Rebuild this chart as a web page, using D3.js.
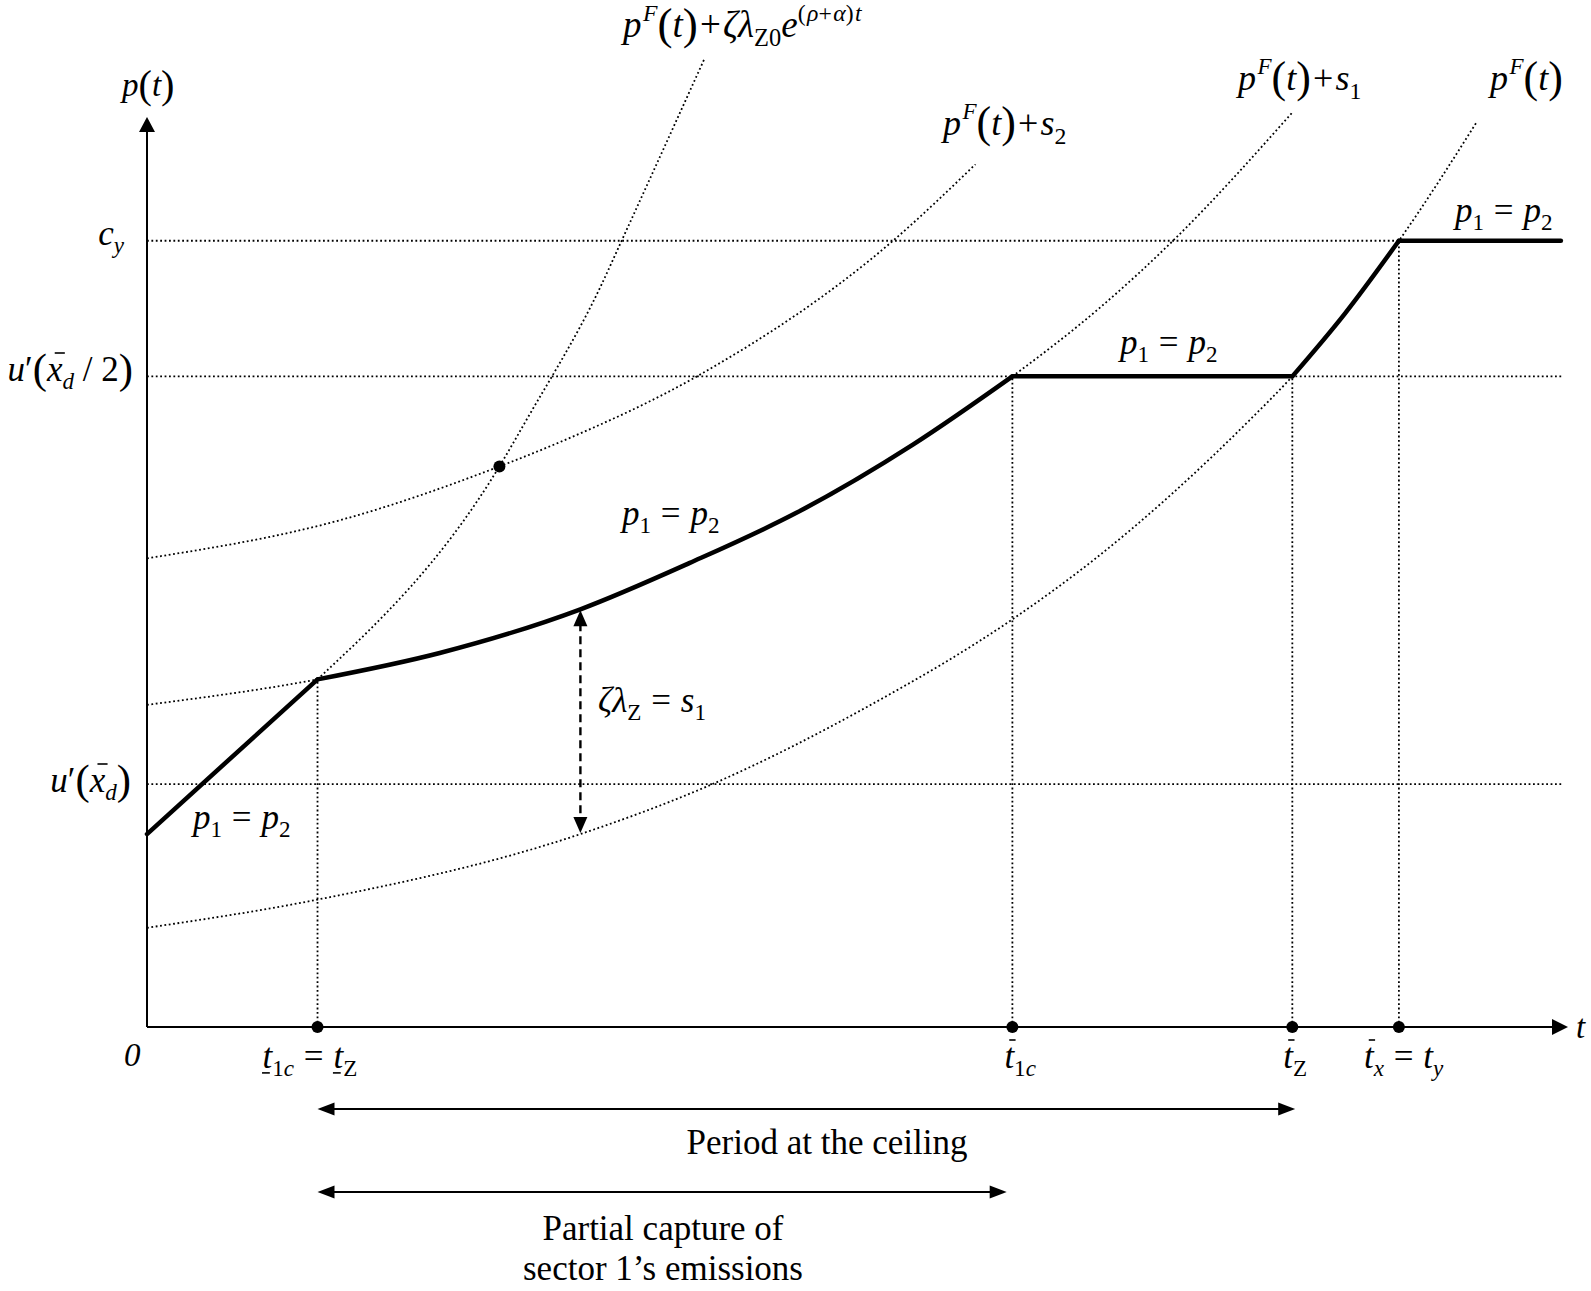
<!DOCTYPE html>
<html><head><meta charset="utf-8">
<script src="https://cdn.jsdelivr.net/npm/d3@7"></script>
<style>
body{margin:0;background:#fff}
svg{display:block}
text{font-family:"Liberation Serif","Times New Roman",serif;fill:#000;white-space:pre}
</style></head><body>
<svg id="c" width="1591" height="1291" xml:space="preserve"></svg>
<script>
// ---------------- data (abstract units: t in [0,100], p in [0,100]) ----------------
const tMax = 100, pMax = 100;
const keyTimes = {t1c: 12.0, tbar1c: 60.9, tbarZ: 80.6, tbarX: 88.1};
const levels = {cy: 86.4, uHalf: 71.5, uFull: 26.7};
const pathStart = [0, 21.2];
const pathEndT = 99.5;
const guideEndT = 99.6;
const pF = [[0,10.9],[12.0,14.0],[30.5,21.2],[39.8,26.7],[50.7,35.2],[60.9,44.8],[66.6,51.3],[77.6,66.7],[80.6,71.5],[84.3,78.4],[88.1,86.4],[93.6,99.5]];
const pFs1 = [[0,35.4],[12.0,38.2],[20.6,41.1],[30.5,45.9],[38.2,51.0],[45.7,56.5],[53.9,64.0],[60.9,71.5],[67.1,79.1],[72.2,86.4],[80.6,100.5]];
const pFs2 = [[0,51.5],[13.6,55.7],[24.8,61.6],[29.1,64.3],[38.7,71.5],[52.5,86.4],[58.3,94.8]];
const pFzeta = [[12.0,38.2],[24.8,61.6],[26.7,66.7],[31.9,81.3],[33.4,86.4],[39.2,106.3]];
const crossPoint = [24.8, 61.6];
const gapT = 30.5, gapTop = 45.9, gapBottom = 21.2;

// label contents: [text, kind, decoration]
const eqP1P2 = [['p','i'],['1','subr'],['=','eq'],['p','i'],['2','subr']];
const pFbase = [['p','i'],['F','sup'],['(','P'],['t','i'],[')','P']];
const curveLabels = [
  pFbase.concat([['+','op'],['ζλ','i'],['Z0','subr'],['e','i'],['(','supr'],['ρ','sup'],['+','supr'],['α','sup'],[')','supr'],['t','sup']]),
  pFbase.concat([['+','op'],['s','i'],['2','subr']]),
  pFbase.concat([['+','op'],['s','i'],['1','subr']]),
  pFbase
];
const gapLabel = [['ζλ','i'],['Z','subr'],['=','eq'],['s','i'],['1','subr']];
const yLabels = [
  [['c','i'],['y','sub']],
  [['u','i'],['′','r'],['(','P'],['x','i','over'],['d','sub'],[' / 2','r'],[')','P']],
  [['u','i'],['′','r'],['(','P'],['x','i','over'],['d','sub'],[')','P']]
];
const xLabels = [
  [['t','i','under'],['1','subr'],['c','sub'],['=','eq'],['t','i','under'],['Z','subr']],
  [['t','i','over'],['1','subr'],['c','sub']],
  [['t','i','over'],['Z','subr']],
  [['t','i','over'],['x','sub'],['=','eq'],['t','i'],['y','sub']]
];
const axisLabelY = [['p','i'],['(','P'],['t','i'],[')','P']];
const periodTexts = ['Period at the ceiling', 'Partial capture of', 'sector 1’s emissions'];

// ---------------- drawing ----------------
const svg = d3.select('#c');
const x = d3.scaleLinear().domain([0, tMax]).range([147, 1568]);
const y = d3.scaleLinear().domain([0, pMax]).range([1027, 117]);
const line = d3.line().x(d => x(d[0])).y(d => y(d[1]));
const curve = d3.line().x(d => x(d[0])).y(d => y(d[1])).curve(d3.curveMonotoneX);

const dotted = g => g.attr('fill','none').attr('stroke','#000').attr('stroke-width',1.8).attr('stroke-dasharray','1.8 2.6');

// dotted curves
[pF, pFs1, pFs2, pFzeta].forEach(c => svg.append('path').attr('d', curve(c)).call(dotted));
// horizontal guides
svg.append('path').attr('d', line([[0,levels.cy],[keyTimes.tbarX,levels.cy]])).call(dotted);
svg.append('path').attr('d', line([[0,levels.uHalf],[guideEndT,levels.uHalf]])).call(dotted);
svg.append('path').attr('d', line([[0,levels.uFull],[guideEndT,levels.uFull]])).call(dotted);
// vertical guides
const s1AtT1c = pFs1.find(d => d[0] === keyTimes.t1c)[1];
[[keyTimes.t1c, s1AtT1c],[keyTimes.tbar1c, levels.uHalf],[keyTimes.tbarZ, levels.uHalf],[keyTimes.tbarX, levels.cy]]
  .forEach(([t,p]) => svg.append('path').attr('d', line([[t,0],[t,p]])).call(dotted));

// thick path
const thick = g => g.attr('fill','none').attr('stroke','#000').attr('stroke-width',4.5).attr('stroke-linecap','round').attr('stroke-linejoin','round');
svg.append('path').attr('d', line([pathStart, [keyTimes.t1c, s1AtT1c]])).call(thick);
svg.append('path').attr('d', curve(pFs1.filter(d => d[0] >= keyTimes.t1c && d[0] <= keyTimes.tbar1c))).call(thick);
svg.append('path').attr('d', line([[keyTimes.tbar1c, levels.uHalf],[keyTimes.tbarZ, levels.uHalf]])).call(thick);
svg.append('path').attr('d', curve(pF.filter(d => d[0] >= keyTimes.tbarZ && d[0] <= keyTimes.tbarX))).call(thick);
svg.append('path').attr('d', line([[keyTimes.tbarX, levels.cy],[pathEndT, levels.cy]])).call(thick);

// arrowhead helper (tip at x0,y0 pointing in direction dx,dy)
function head(x0, y0, dx, dy, len, hw) {
  const n = Math.hypot(dx, dy); const ux = dx/n, uy = dy/n;
  const bx = x0 - ux*len, by = y0 - uy*len;
  svg.append('path').attr('d', `M${x0},${y0}L${bx - uy*hw},${by + ux*hw}L${bx + uy*hw},${by - ux*hw}Z`).attr('fill','#000');
}

// axes
svg.append('line').attr('x1', x(0)).attr('y1', y(0)).attr('x2', x(0)).attr('y2', y(pMax)+12).attr('stroke','#000').attr('stroke-width',2);
head(x(0), y(pMax), 0, -1, 15, 8);
svg.append('line').attr('x1', x(0)).attr('y1', y(0)).attr('x2', x(tMax)-12).attr('y2', y(0)).attr('stroke','#000').attr('stroke-width',2);
head(x(tMax), y(0), 1, 0, 16, 8);

// dots
Object.values(keyTimes).forEach(t => svg.append('circle').attr('cx', x(t)).attr('cy', y(0)).attr('r', 6).attr('fill','#000'));
svg.append('circle').attr('cx', x(crossPoint[0])).attr('cy', y(crossPoint[1])).attr('r', 6).attr('fill','#000');

// dashed gap arrow
svg.append('line').attr('x1', x(gapT)).attr('x2', x(gapT)).attr('y1', y(gapTop)+14).attr('y2', y(gapBottom)-14)
  .attr('stroke','#000').attr('stroke-width',2.4).attr('stroke-dasharray','8 5');
head(x(gapT), y(gapTop)+1, 0, -1, 16, 7);
head(x(gapT), y(gapBottom)-1, 0, 1, 16, 7);

// bottom period arrows
function dbl(t0, t1, yy) {
  svg.append('line').attr('x1', x(t0)+10).attr('x2', x(t1)-10).attr('y1', yy).attr('y2', yy).attr('stroke','#000').attr('stroke-width',2);
  head(x(t0), yy, -1, 0, 17, 6.5);
  head(x(t1), yy, 1, 0, 17, 6.5);
}
dbl(keyTimes.t1c, keyTimes.tbarZ + 0.2, 1109);
dbl(keyTimes.t1c, keyTimes.tbar1c - 0.4, 1192);

// math text builder
function mathText(px, py, parts, fs, anchor) {
  const t = svg.append('text').attr('x', px).attr('y', py).attr('font-size', fs).attr('text-anchor', anchor || 'start');
  let shift = 0, pending = 0;
  const decos = [];
  let idx = 0;
  parts.forEach(([str, kind, deco]) => {
    let size = fs, off = 0, style = 'italic', dx = pending, after = 0;
    pending = 0;
    if (kind === 'r') style = 'normal';
    if (kind === 'op') { style = 'normal'; dx += fs*0.06; after = fs*0.06; }
    if (kind === 'eq') { style = 'normal'; dx += fs*0.28; after = fs*0.28; }
    if (kind === 'P') { style = 'normal'; size = fs*1.22; off = fs*0.05; }
    if (kind === 'sub') { size = fs*0.66; off = fs*0.24; }
    if (kind === 'subr') { size = fs*0.66; off = fs*0.24; style = 'normal'; }
    if (kind === 'sup') { size = fs*0.64; off = -fs*0.44; dx += fs*0.04; }
    if (kind === 'supr') { size = fs*0.64; off = -fs*0.44; style = 'normal'; }
    const ts = t.append('tspan').text(str).attr('font-size', size).attr('font-style', style).attr('dy', off - shift);
    if (dx) ts.attr('dx', dx);
    pending = after;
    shift = off;
    if (deco) decos.push({i: idx, deco, size});
    idx += str.length;
  });
  decos.forEach(d => {
    const ext = t.node().getExtentOfChar(d.i);
    const x0 = ext.x, w = ext.width;
    if (d.deco === 'over') {
      const yy = py - d.size*0.8;
      svg.append('line').attr('x1', x0 + w*0.5).attr('x2', x0 + w*1.15).attr('y1', yy).attr('y2', yy).attr('stroke','#000').attr('stroke-width',1.6);
    } else {
      const yy = py + d.size*0.14;
      svg.append('line').attr('x1', x0 - w*0.05).attr('x2', x0 + w*0.75).attr('y1', yy).attr('y2', yy).attr('stroke','#000').attr('stroke-width',1.6);
    }
  });
  return t;
}

const FS = 35;
// axis labels
mathText(122, 96, axisLabelY, 33);
mathText(x(0) - 23, 245, yLabels[0], FS, 'end');
mathText(x(0) - 14, 381, yLabels[1], FS, 'end');
mathText(x(0) - 16, 792, yLabels[2], FS, 'end');
svg.append('text').attr('x', 124).attr('y', 1066).attr('font-size', 33).attr('font-style','italic').text('0');
svg.append('text').attr('x', 1576).attr('y', 1038).attr('font-size', 33).attr('font-style','italic').text('t');

// curve labels
mathText(623, 37, curveLabels[0], 37);
mathText(943, 135, curveLabels[1], 36);
mathText(1238, 90, curveLabels[2], 36);
mathText(1490, 90, curveLabels[3], 36);

// p1 = p2 labels
mathText(1455, 222, eqP1P2, FS);
mathText(1120, 354, eqP1P2, FS);
mathText(622, 525, eqP1P2, FS);
mathText(193, 829, eqP1P2, FS);
mathText(598, 712, gapLabel, FS);

// x labels
mathText(x(keyTimes.t1c) - 55, 1068, xLabels[0], FS);
mathText(x(keyTimes.tbar1c) - 8, 1068, xLabels[1], FS);
mathText(x(keyTimes.tbarZ) - 9, 1068, xLabels[2], FS);
mathText(x(keyTimes.tbarX) - 35, 1068, xLabels[3], FS);

// period texts
svg.append('text').attr('x', 827).attr('y', 1154).attr('font-size', 35).attr('text-anchor','middle').text(periodTexts[0]);
svg.append('text').attr('x', 663).attr('y', 1240).attr('font-size', 35).attr('text-anchor','middle').text(periodTexts[1]);
svg.append('text').attr('x', 663).attr('y', 1280).attr('font-size', 35).attr('text-anchor','middle').text(periodTexts[2]);
</script>
</body></html>
